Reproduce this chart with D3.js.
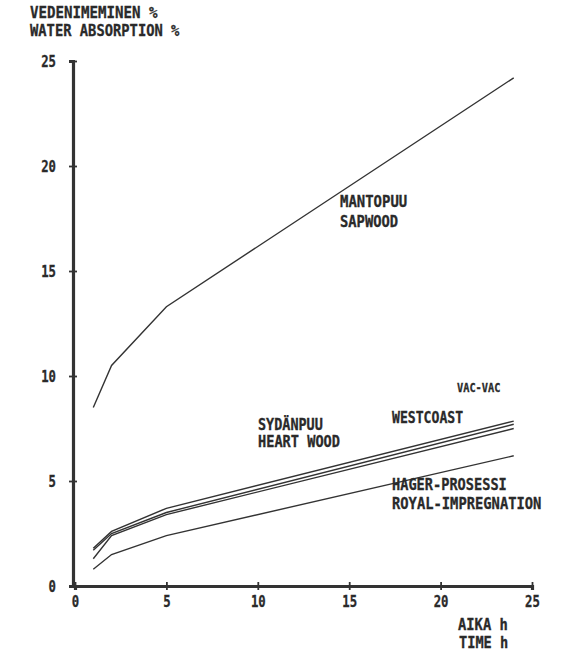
<!DOCTYPE html>
<html>
<head>
<meta charset="utf-8">
<script src="https://cdn.jsdelivr.net/npm/d3@7"></script>
<style>
  body { margin: 0; background: #fff; }
  text { font-family: "DejaVu Sans Mono", monospace; font-weight: bold; fill: #2a2a2a; stroke: #2a2a2a; stroke-width: 0.3; }
</style>
</head>
<body>
<svg id="chart"></svg>
<script>
var hours = [1, 2, 5, 24];
var sapwood = [8.5, 10.5, 13.3, 24.2];
var westcoast = [1.8, 2.6, 3.7, 7.85];
var vacvac = [1.7, 2.5, 3.5, 7.7];
var heartwood = [1.3, 2.4, 3.4, 7.5];
var royal = [0.8, 1.5, 2.4, 6.2];
var xTicks = [0, 5, 10, 15, 20, 25];
var yTicks = [0, 5, 10, 15, 20, 25];

var W = 561, H = 654;
var svg = d3.select("#chart").attr("width", W).attr("height", H);

var x = d3.scaleLinear().domain([0, 25]).range([75, 532]);
var y = d3.scaleLinear().domain([0, 25]).range([586, 61]);

// labels drawn with a narrow plotter-ish look
function label(txt, px, py, size, cw, anchor) {
  svg.append("text")
     .attr("x", px).attr("y", py)
     .attr("font-size", size)
     .attr("text-anchor", anchor || "start")
     .attr("textLength", txt.length * cw)
     .attr("lengthAdjust", "spacingAndGlyphs")
     .text(txt);
}

// y axis
var yAxis = d3.axisLeft(y).tickValues(yTicks).tickSize(4).tickPadding(14);
var gy = svg.append("g").attr("transform", "translate(" + (x(0) - 2) + ",0)").call(yAxis);
gy.select(".domain").attr("stroke", "#333").attr("stroke-width", 3.2);
gy.selectAll(".tick line").attr("x1", 4).attr("stroke", "#333").attr("stroke-width", 1.8);
gy.selectAll(".tick text").remove();
gy.selectAll(".tick").each(function(d) {
  d3.select(this).append("text")
    .attr("x", -17).attr("dy", "0.38em")
    .attr("text-anchor", "end")
    .attr("font-size", 15)
    .attr("textLength", String(d).length * 7.4)
    .attr("lengthAdjust", "spacingAndGlyphs")
    .text(d);
});

// x axis
var xAxis = d3.axisBottom(x).tickValues(xTicks).tickSize(4);
var gx = svg.append("g").attr("transform", "translate(0," + y(0) + ")").call(xAxis);
gx.select(".domain").attr("stroke", "#333").attr("stroke-width", 3.2);
gx.selectAll(".tick line").attr("y1", -4).attr("stroke", "#333").attr("stroke-width", 1.8);
gx.selectAll(".tick text").remove();
gx.selectAll(".tick").each(function(d) {
  d3.select(this).append("text")
    .attr("y", 21)
    .attr("text-anchor", "middle")
    .attr("font-size", 15)
    .attr("textLength", String(d).length * 7.4)
    .attr("lengthAdjust", "spacingAndGlyphs")
    .text(d);
});

// series
var line = d3.line()
  .x(function(d) { return x(d[0]); })
  .y(function(d) { return y(d[1]); });

[sapwood, westcoast, vacvac, heartwood, royal].forEach(function(s) {
  svg.append("path")
     .datum(d3.zip(hours, s))
     .attr("d", line)
     .attr("fill", "none")
     .attr("stroke", "#333")
     .attr("stroke-width", 1.4);
});

// titles
label("VEDENIMEMINEN %", 30, 18, 15, 8.5);
label("WATER ABSORPTION %", 30, 36, 15, 8.3);
label("AIKA h", 458, 630, 15, 8.3);
label("TIME h", 459, 648, 15, 8.2);

// series labels
label("MANTOPUU", 340, 207, 15, 8.4);
label("SAPWOOD", 340, 227, 15, 8.3);
label("VAC-VAC", 457, 392, 13, 6.2);
label("WESTCOAST", 392, 423, 15, 7.9);
label("SYDÄNPUU", 258, 430, 15, 8.1);
label("HEART WOOD", 258, 447, 15, 8.2);
label("HAGER-PROSESSI", 392, 490, 15, 8.2);
label("ROYAL-IMPREGNATION", 392, 509, 15, 8.3);
</script>
</body>
</html>
